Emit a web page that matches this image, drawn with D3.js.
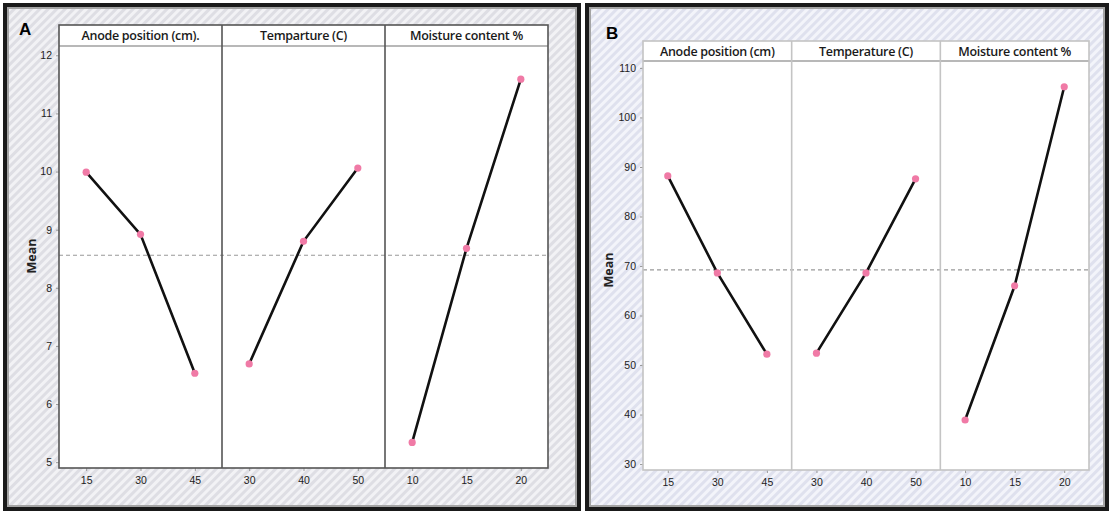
<!DOCTYPE html>
<html>
<head>
<meta charset="utf-8">
<script src="https://cdn.jsdelivr.net/npm/d3@7"></script>
<style>
  body { margin: 0; background: #ffffff; }
  svg { display: block; font-family: "Open Sans", "Noto Sans", sans-serif; }
</style>
</head>
<body>
<svg id="my-svg"></svg>
<script>
// factor levels (x tick labels)
const anodeLevels = ["15", "30", "45"];
const tempLevels = ["30", "40", "50"];
const moistLevels = ["10", "15", "20"];

// panel A means
const aAnode = [9.99, 8.92, 6.53];
const aTemp = [6.69, 8.80, 10.06];
const aMoist = [5.34, 8.68, 11.59];
const aGrandMean = 8.56;
const aTicks = [5, 6, 7, 8, 9, 10, 11, 12];
const aTitles = ["Anode position (cm).", "Temparture (C)", "Moisture content %"];

// panel B means
const bAnode = [88.2, 68.6, 52.2];
const bTemp = [52.4, 68.6, 87.6];
const bMoist = [38.9, 66.0, 106.2];
const bGrandMean = 69.2;
const bTicks = [30, 40, 50, 60, 70, 80, 90, 100, 110];
const bTitles = ["Anode position (cm)", "Temperature (C)", "Moisture content %"];

let oSvg = d3.select("#my-svg")
      .attr('width', 1111)
      .attr('height', 514);

let oDefs = oSvg.append('defs');

function hatch(sId, sBack, sStripe){
    let p = oDefs.append('pattern')
        .attr('id', sId)
        .attr('patternUnits', 'userSpaceOnUse')
        .attr('width', 6).attr('height', 6)
        .attr('patternTransform', 'rotate(45)');
    p.append('rect').attr('width', 6).attr('height', 6).attr('fill', sBack);
    p.append('rect').attr('width', 3).attr('height', 6).attr('fill', sStripe);
}
hatch('hatchA', '#dedee4', '#f2f2f5');
hatch('hatchB', '#dfe1ee', '#f3f4fa');

function drawPanel(o){
    let g = oSvg.append('g');

    // frame
    g.append('rect')
        .attr('x', o.box[0]).attr('y', o.box[1])
        .attr('width', o.box[2]).attr('height', o.box[3])
        .attr('fill', 'url(#' + o.hatch + ')')
        .attr('stroke', '#1a1a1a').attr('stroke-width', 4);
    g.append('rect')
        .attr('x', o.box[0] + 3).attr('y', o.box[1] + 3)
        .attr('width', o.box[2] - 6).attr('height', o.box[3] - 6)
        .attr('fill', 'none')
        .attr('stroke', '#a4a4a4').attr('stroke-width', 2);

    g.append('text')
        .attr('x', o.letter[0]).attr('y', o.letter[1])
        .attr('font-size', 17).attr('font-weight', 'bold')
        .attr('font-family', 'Liberation Sans, Arial, sans-serif')
        .attr('fill', '#000')
        .text(o.name);

    let y = d3.scaleLinear().domain(o.yDomain).range([o.bottom, o.headBottom]);
    let nCols = o.series.length;
    let colW = (o.right - o.left) / nCols;

    // plot background
    g.append('rect')
        .attr('x', o.left).attr('y', o.top)
        .attr('width', o.right - o.left).attr('height', o.bottom - o.top)
        .attr('fill', '#ffffff');

    // header strip line
    g.append('line')
        .attr('x1', o.left).attr('x2', o.right)
        .attr('y1', o.headBottom).attr('y2', o.headBottom)
        .attr('stroke', '#b8b8b8').attr('stroke-width', 2);

    // y axis
    let yAxis = g.append('g')
        .attr('transform', 'translate(' + o.left + ',0)')
        .call(d3.axisLeft(y).tickValues(o.ticks).tickSize(3).tickPadding(4));
    yAxis.select('.domain').remove();
    yAxis.selectAll('line').attr('stroke', '#999');
    yAxis.selectAll('text').attr('font-size', 10.5).attr('fill', '#222');

    g.append('text')
        .attr('transform', 'translate(' + o.meanPos[0] + ',' + o.meanPos[1] + ') rotate(-90)')
        .attr('text-anchor', 'middle')
        .attr('font-size', 12.5).attr('font-weight', 'bold')
        .attr('fill', '#222')
        .text('Mean');

    // grand mean reference
    g.append('line')
        .attr('x1', o.left).attr('x2', o.right)
        .attr('y1', y(o.grandMean)).attr('y2', y(o.grandMean))
        .attr('stroke', '#999').attr('stroke-width', 1.2)
        .attr('stroke-dasharray', '4,3');

    o.series.forEach((s, i) => {
        let x0 = o.left + i * colW;
        let x = d3.scalePoint().domain(s.levels).range([x0, x0 + colW]).padding(0.5);

        g.append('text')
            .attr('x', x0 + colW / 2).attr('y', o.top + 15)
            .attr('text-anchor', 'middle')
            .attr('font-size', 12.5).attr('font-weight', 600)
            .attr('letter-spacing', -0.3)
            .attr('fill', '#1a1a1a')
            .text(o.titles[i]);

        let xAxis = g.append('g')
            .attr('transform', 'translate(0,' + o.bottom + ')')
            .call(d3.axisBottom(x).tickSize(3).tickPadding(6));
        xAxis.select('.domain').remove();
        xAxis.selectAll('line').attr('stroke', '#999');
        xAxis.selectAll('text').attr('font-size', 10.5).attr('fill', '#222');

        let pts = s.levels.map((l, j) => ({ l, v: s.values[j] }));

        g.append('path')
            .datum(pts)
            .attr('d', d3.line().x(d => x(d.l)).y(d => y(d.v)))
            .attr('fill', 'none')
            .attr('stroke', '#111').attr('stroke-width', 2.6);

        g.selectAll('circle.p' + o.name + i)
            .data(pts)
            .enter().append('circle')
                .attr('class', 'p' + o.name + i)
                .attr('cx', d => x(d.l))
                .attr('cy', d => y(d.v))
                .attr('r', 3.6)
                .attr('fill', '#f07aa6');

        if(i > 0){
            g.append('line')
                .attr('x1', x0).attr('x2', x0)
                .attr('y1', o.top).attr('y2', o.bottom)
                .attr('stroke', o.divColor).attr('stroke-width', o.divWidth);
        }
    });

    // plot border
    g.append('rect')
        .attr('x', o.left).attr('y', o.top)
        .attr('width', o.right - o.left).attr('height', o.bottom - o.top)
        .attr('fill', 'none')
        .attr('stroke', o.divColor).attr('stroke-width', o.divWidth);
}

drawPanel({
    name: 'A', hatch: 'hatchA',
    box: [5, 5, 574, 504], letter: [19, 35],
    left: 59, right: 548, top: 25, headBottom: 46, bottom: 468,
    yDomain: [4.9, 12.16], ticks: aTicks, grandMean: aGrandMean,
    meanPos: [36, 256], titles: aTitles,
    divColor: '#555', divWidth: 1.6,
    series: [
        { levels: anodeLevels, values: aAnode },
        { levels: tempLevels, values: aTemp },
        { levels: moistLevels, values: aMoist }
    ]
});

drawPanel({
    name: 'B', hatch: 'hatchB',
    box: [587, 5, 520, 504], letter: [606, 39],
    left: 643, right: 1089, top: 41, headBottom: 61, bottom: 470,
    yDomain: [28.8, 111.4], ticks: bTicks, grandMean: bGrandMean,
    meanPos: [613, 270], titles: bTitles,
    divColor: '#c4c4c4', divWidth: 1.6,
    series: [
        { levels: anodeLevels, values: bAnode },
        { levels: tempLevels, values: bTemp },
        { levels: moistLevels, values: bMoist }
    ]
});
</script>
</body>
</html>
